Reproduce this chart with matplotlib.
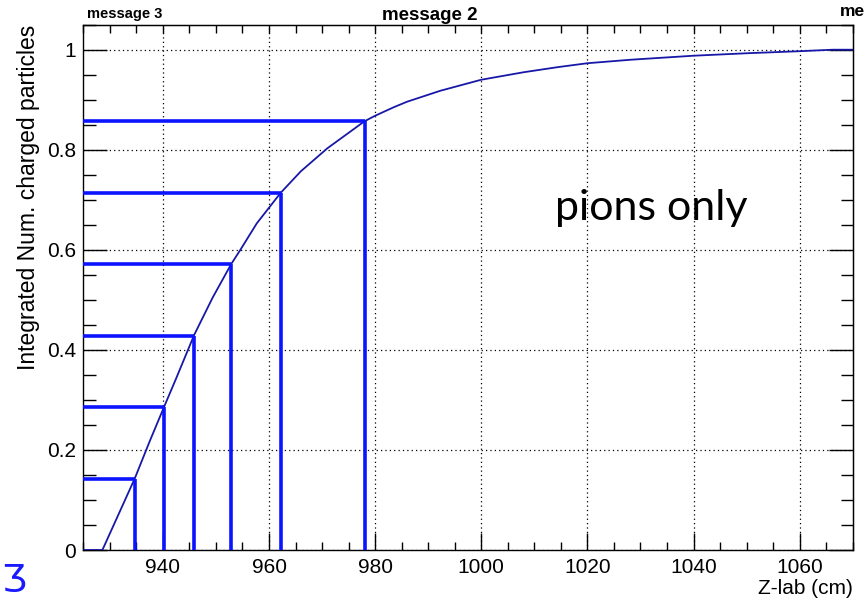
import matplotlib
matplotlib.use("Agg")
import matplotlib.pyplot as plt
from matplotlib.ticker import MultipleLocator, FixedLocator

# Cumulative fraction of charged particles (pions only) vs Z-lab
z_lab = [928.6, 934.7, 937.5, 940.3, 942.5, 945.9, 949.4, 952.9, 954.6, 957.7,
         962.2, 966.0, 971.0, 978.0, 980.0, 983.5, 986.0, 992.3, 1000.0, 1008.0,
         1014.3, 1020.0, 1028.2, 1040.0, 1050.2, 1060.0, 1066.2, 1070.0]
integrated = [0.0, 0.143, 0.217, 0.288, 0.343, 0.430, 0.505, 0.572, 0.600, 0.653,
              0.714, 0.757, 0.803, 0.857, 0.868, 0.885, 0.896, 0.918, 0.940, 0.955,
              0.965, 0.973, 0.980, 0.988, 0.993, 0.997, 1.0, 1.0]

# Equal-population boundaries (k/7)
box_levels = [1/7, 2/7, 3/7, 4/7, 5/7, 6/7]
box_z = [934.75, 940.2, 945.9, 952.9, 962.2, 978.0]

x_ticks = [940, 960, 980, 1000, 1020, 1040, 1060]
y_ticks = [0, 0.2, 0.4, 0.6, 0.8, 1.0]
y_tick_labels = ["0", "0.2", "0.4", "0.6", "0.8", "1"]

plt.rcParams['font.family'] = ['Liberation Sans', 'DejaVu Sans']

fig = plt.figure(figsize=(8.65, 6.0), dpi=100)
ax = fig.add_axes([83.3/865, 50/600, (852.7-83.3)/865, (550-24.7)/600])

xmin, xmax = 925, 1070
ax.set_xlim(xmin, xmax)
ax.set_ylim(0, 1.05)

ax.grid(True, which='major', linestyle=(0, (1, 2.5)), color='black', linewidth=0.9)
ax.set_axisbelow(True)

# curve
ax.plot([xmin] + z_lab, [0.0] + integrated, color='#1818a8', linewidth=1.3,
        zorder=3)

# boxes
for zb, lev in zip(box_z, box_levels):
    ax.plot([xmin, zb], [lev, lev], color='#0a14ff', linewidth=2.6, zorder=4,
            solid_capstyle='butt')
    ax.plot([zb, zb], [0, lev], color='#0a14ff', linewidth=2.6, zorder=4,
            solid_capstyle='butt')

ax.xaxis.set_major_locator(FixedLocator(x_ticks))
ax.xaxis.set_minor_locator(MultipleLocator(5))
ax.yaxis.set_major_locator(FixedLocator(y_ticks))
ax.set_yticklabels(y_tick_labels)
ax.yaxis.set_minor_locator(MultipleLocator(0.05))

ax.tick_params(axis='x', which='major', direction='in', length=12, width=1.0,
               labelsize=15, pad=6)
ax.tick_params(axis='x', which='minor', direction='in', length=6, width=1.0)
ax.tick_params(axis='y', which='major', direction='in', length=17, width=1.0,
               labelsize=15, pad=5)
ax.tick_params(axis='y', which='minor', direction='in', length=9, width=1.0)

for s in ax.spines.values():
    s.set_linewidth(1.0)

# top and right tick marks
top = ax.secondary_xaxis('top')
top.xaxis.set_major_locator(FixedLocator(x_ticks))
top.xaxis.set_minor_locator(MultipleLocator(5))
top.tick_params(which='both', direction='in', length=6, width=1.0, labeltop=False)
right = ax.secondary_yaxis('right')
right.yaxis.set_major_locator(FixedLocator(y_ticks))
right.yaxis.set_minor_locator(MultipleLocator(0.05))
right.tick_params(which='major', direction='in', length=17, width=1.0, labelright=False)
right.tick_params(which='minor', direction='in', length=9, width=1.0, labelright=False)

ax.set_ylabel("Integrated Num. charged particles", fontsize=16.5, loc='top', labelpad=5)
ax.set_xlabel("Z-lab (cm)", fontsize=15, loc='right', labelpad=1)

ax.text((555 - 83.3) / 769.4, (550 - 208) / 525.3, "pions only",
        transform=ax.transAxes, fontsize=31,
        family=['Lato', 'DejaVu Sans'], ha='left', va='center')

fig.text(87/865, 1 - 14/600, "message 3", fontsize=10.5, fontweight='bold',
         ha='left', va='center')
fig.text(430/865, 1 - 15/600, "message 2", fontsize=13.5, fontweight='bold',
         ha='center', va='center')
fig.text(840/865, 1 - 11/600, "me", fontsize=12.5, fontweight='bold',
         ha='left', va='center')
fig.text(1/865, 1 - 581/600, "\u01b7", fontsize=27, color='#1a1aff',
         ha='left', va='center', family=['DejaVu Sans'])

fig.savefig("out.png", dpi=100)
